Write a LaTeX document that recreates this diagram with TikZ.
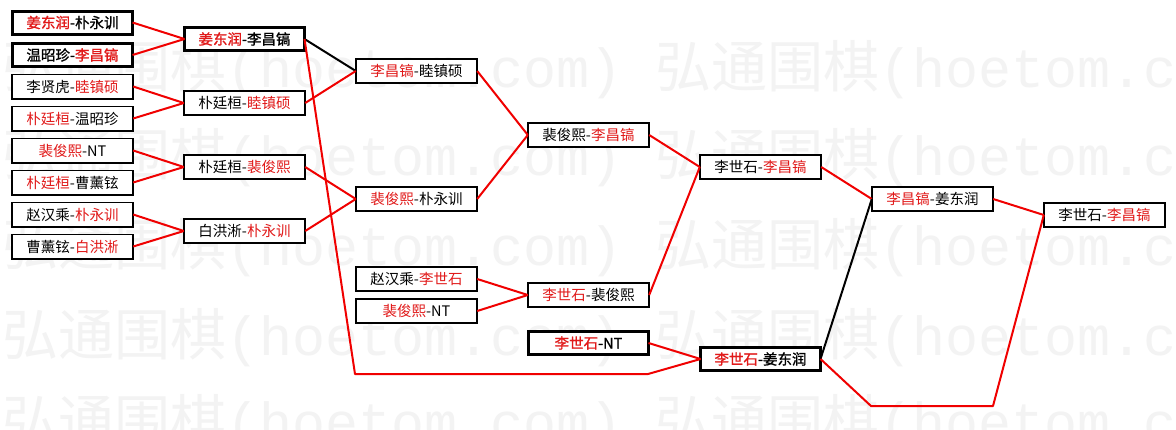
\documentclass[tikz,border=0pt]{standalone}
\usepackage{fontspec}
\newfontfamily\cjk{Noto Sans CJK SC}
\newfontfamily\cjkb{Noto Sans CJK SC}[FakeBold=1.2]
\newfontfamily\wmmono{Liberation Mono}
\definecolor{tred}{RGB}{225,25,25}
\definecolor{lred}{RGB}{240,0,0}
\definecolor{wmgray}{RGB}{243,243,243}
\newcommand{\R}[1]{\textcolor{tred}{#1}}
\newcommand{\wmunit}{{\fontsize{56}{60}\selectfont\cjk 弘通围棋}{\fontsize{55}{60}\selectfont\wmmono(hoetom.com) }}
\tikzset{
  box/.style={draw=black, line width=1.6pt, fill=white, minimum width=121.4pt, minimum height=24.4pt,
    inner sep=0pt, outer sep=0pt, font=\cjk\fontsize{14.5}{16}\selectfont},
  bbox/.style={box, line width=3pt, minimum width=120pt, minimum height=23pt, font=\cjkb\fontsize{14.5}{16}\selectfont},
  rl/.style={draw=lred, line width=2pt, line join=round},
  bl/.style={draw=black, line width=2pt},
  wmtext/.style={text=wmgray, inner sep=0pt, anchor=west}
}
\begin{document}
\begin{tikzpicture}[x=1pt, y=-1pt]
\useasboundingbox (0,0) rectangle (1176,429);
\fill[white] (0,0) rectangle (1176,429);
\begin{scope}
\clip (0,0) rectangle (1176,429);
\node[wmtext] (wm1) at (2,70) {\wmunit\wmunit};
\node[wmtext] (wm2) at (2,158) {\wmunit\wmunit};
\node[wmtext] (wm3) at (2,248) {\wmunit\wmunit};
\node[wmtext] (wm4) at (2,338) {\wmunit\wmunit};
\node[wmtext] (wm5) at (2,424) {\wmunit\wmunit};
\end{scope}
% column 1
\node[bbox] (a1) at (72.5,22.5) {\R{姜东润}-朴永训};
\node[bbox] (a2) at (72.5,55) {温昭珍-\R{李昌镐}};
\node[box] (a3) at (72.5,86.5) {李贤虎-\R{睦镇硕}};
\node[box] (a4) at (72.5,118.5) {\R{朴廷桓}-温昭珍};
\node[box] (a5) at (72.5,150.5) {\R{裴俊熙}-NT};
\node[box] (a6) at (72.5,182.5) {\R{朴廷桓}-曹薰铉};
\node[box] (a7) at (72.5,214.5) {赵汉乘-\R{朴永训}};
\node[box] (a8) at (72.5,246.5) {曹薰铉-\R{白洪淅}};
% column 2
\node[bbox] (b1) at (244.5,39) {\R{姜东润}-李昌镐};
\node[box] (b2) at (244.5,103) {朴廷桓-\R{睦镇硕}};
\node[box] (b3) at (244.5,167) {朴廷桓-\R{裴俊熙}};
\node[box] (b4) at (244.5,231) {白洪淅-\R{朴永训}};
% column 3
\node[box] (c1) at (416.5,71) {\R{李昌镐}-睦镇硕};
\node[box] (c2) at (416.5,199) {\R{裴俊熙}-朴永训};
\node[box] (c3) at (416.5,279) {赵汉乘-\R{李世石}};
\node[box] (c4) at (416.5,311) {\R{裴俊熙}-NT};
% column 4
\node[box] (d1) at (588.5,135) {裴俊熙-\R{李昌镐}};
\node[box] (d2) at (588.5,295) {\R{李世石}-裴俊熙};
\node[bbox] (d3) at (588.5,343) {\R{李世石}-NT};
% column 5
\node[box] (e1) at (760.5,167) {李世石-\R{李昌镐}};
\node[bbox] (e2) at (760.5,359) {\R{李世石}-姜东润};
% column 6
\node[box] (f1) at (932.5,199) {\R{李昌镐}-姜东润};
% column 7
\node[box] (g1) at (1104.5,215) {李世石-\R{李昌镐}};
% bend points
\coordinate (p1) at (355,374);
\coordinate (p2) at (648,374);
\coordinate (p3) at (871,406);
\coordinate (p4) at (993,406);
% connectors
\draw[rl] (a1.east) -- (b1.west);
\draw[rl] (a2.east) -- (b1.west);
\draw[rl] (a3.east) -- (b2.west);
\draw[rl] (a4.east) -- (b2.west);
\draw[rl] (a5.east) -- (b3.west);
\draw[rl] (a6.east) -- (b3.west);
\draw[rl] (a7.east) -- (b4.west);
\draw[rl] (a8.east) -- (b4.west);
\draw[bl] (b1.east) -- (c1.west);
\draw[rl] (b2.east) -- (c1.west);
\draw[rl] (b3.east) -- (c2.west);
\draw[rl] (b4.east) -- (c2.west);
\draw[rl] (b1.east) -- (p1) -- (p2) -- (e2.west);
\draw[rl] (c1.east) -- (d1.west);
\draw[rl] (c2.east) -- (d1.west);
\draw[rl] (c3.east) -- (d2.west);
\draw[rl] (c4.east) -- (d2.west);
\draw[rl] (d1.east) -- (e1.west);
\draw[rl] (d2.east) -- (e1.west);
\draw[rl] (d3.east) -- (e2.west);
\draw[rl] (e1.east) -- (f1.west);
\draw[bl] (e2.east) -- (f1.west);
\draw[rl] (f1.east) -- (g1.west);
\draw[rl] (e2.east) -- (p3) -- (p4) -- (g1.west);
\end{tikzpicture}
\end{document}
